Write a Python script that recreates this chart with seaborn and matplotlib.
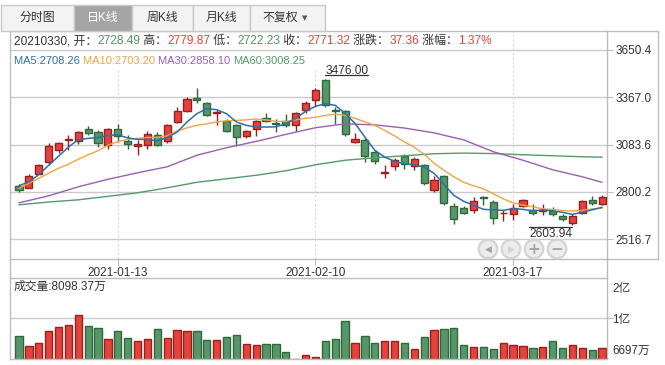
import matplotlib
matplotlib.use("Agg")
import matplotlib.pyplot as plt
import seaborn as sns
import numpy as np
import pandas as pd
from matplotlib.patches import Rectangle, Circle
from matplotlib.lines import Line2D

# ---------------- data ----------------
dates = ["2020-12-29", "2020-12-30", "2020-12-31", "2021-01-04", "2021-01-05", "2021-01-06",
         "2021-01-07", "2021-01-08", "2021-01-11", "2021-01-12", "2021-01-13", "2021-01-14",
         "2021-01-15", "2021-01-18", "2021-01-19", "2021-01-20", "2021-01-21", "2021-01-22",
         "2021-01-25", "2021-01-26", "2021-01-27", "2021-01-28", "2021-01-29", "2021-02-01",
         "2021-02-02", "2021-02-03", "2021-02-04", "2021-02-05", "2021-02-08", "2021-02-09",
         "2021-02-10", "2021-02-18", "2021-02-19", "2021-02-22", "2021-02-23", "2021-02-24",
         "2021-02-25", "2021-02-26", "2021-03-01", "2021-03-02", "2021-03-03", "2021-03-04",
         "2021-03-05", "2021-03-08", "2021-03-09", "2021-03-10", "2021-03-11", "2021-03-12",
         "2021-03-15", "2021-03-16", "2021-03-17", "2021-03-18", "2021-03-19", "2021-03-22",
         "2021-03-23", "2021-03-24", "2021-03-25", "2021-03-26", "2021-03-29", "2021-03-30"]

opens = [2838, 2826, 2910, 2982, 3054, 3114, 3108, 3180, 3159, 3084,
         3180, 3103, 3078, 3084, 3141, 3105, 3219, 3285, 3365, 3333,
         3273, 3223, 3204, 3138, 3180, 3245, 3215, 3225, 3204, 3293,
         3349, 3473, 3291, 3283, 3102, 3114, 3039, 2912, 2958, 3018,
         2958, 2964, 2810, 2894, 2718, 2706, 2690, 2770, 2738, 2672,
         2670, 2718, 2695, 2684, 2684, 2654, 2617, 2677, 2750, 2728.49]
closes = [2814, 2898, 2964, 3078, 3096, 3117, 3159, 3156, 3096, 3180,
          3134, 3090, 3087, 3147, 3081, 3204, 3283, 3359, 3353, 3263,
          3279, 3168, 3132, 3163, 3227, 3227, 3207, 3199, 3275, 3335,
          3411, 3323, 3287, 3145, 3115, 3014, 2984, 2918, 2994, 2970,
          3000, 2856, 2874, 2736, 2641, 2676, 2748, 2762, 2647, 2677,
          2706, 2750, 2677, 2695, 2670, 2641, 2656, 2748, 2734, 2771.32]
highs = [2846, 2910, 2970, 3096, 3102, 3139, 3165, 3193, 3169, 3182,
         3210, 3144, 3109, 3165, 3157, 3205, 3309, 3367, 3425, 3339,
         3289, 3237, 3210, 3171, 3233, 3273, 3240, 3265, 3279, 3343,
         3423, 3476.00, 3309, 3289, 3156, 3126, 3050, 2960, 3004, 3026,
         3010, 2970, 2898, 2900, 2734, 2718, 2770, 2774, 2754, 2694,
         2730, 2760, 2730, 2726, 2710, 2670, 2670, 2754, 2774, 2779.87]
lows = [2798, 2824, 2906, 2966, 3033, 3054, 3086, 3139, 3069, 3060,
        3099, 3060, 3024, 3060, 3075, 3096, 3215, 3279, 3333, 3253,
        3204, 3159, 3074, 3126, 3133, 3219, 3159, 3189, 3163, 3275,
        3315, 3309, 3205, 3133, 3092, 2980, 2970, 2886, 2934, 2940,
        2934, 2844, 2800, 2724, 2611, 2666, 2674, 2720, 2611, 2626,
        2635, 2710, 2662, 2665, 2656, 2624, 2603.94, 2670, 2724, 2722.23]
volumes_wan = [8851, 8224, 8412, 9184, 9416, 9541, 10169, 9479, 9353, 8663,
               9165, 8726, 8537, 8663, 9290, 8726, 9228, 9165, 9165, 8600,
               8600, 8789, 8914, 8349, 8287, 8349, 8349, 7866, 7426, 7678,
               7552, 8556, 8663, 9793, 8412, 8851, 8412, 8556, 8556, 8412,
               8036, 8789, 9228, 9290, 9353, 8287, 8161, 8161, 8036, 8412,
               8287, 8224, 8098, 8161, 8556, 8098, 8287, 8098, 7973, 8098.37]

ma5 = [2838, 2860, 2904, 2960, 3014, 3069, 3114, 3121, 3126, 3139,
       3142, 3124, 3115, 3115, 3106, 3126, 3159, 3219, 3269, 3299,
       3293, 3269, 3219, 3199, 3189, 3189, 3190, 3209, 3241, 3283,
       3313, 3329, 3319, 3271, 3211, 3129, 3050, 3009, 2984, 2969,
       2963, 2948, 2912, 2846, 2780, 2744, 2720, 2696, 2693, 2690,
       2700, 2696, 2687, 2693, 2687, 2678, 2666, 2678, 2693, 2708.26]
ma10 = [2822, 2852, 2882, 2912, 2942, 2966, 2996, 3023, 3047, 3080,
        3103, 3115, 3121, 3126, 3127, 3136, 3165, 3184, 3199, 3208,
        3220, 3226, 3229, 3232, 3237, 3232, 3223, 3223, 3232, 3241,
        3247, 3259, 3265, 3259, 3241, 3220, 3199, 3169, 3136, 3100,
        3068, 3026, 2972, 2930, 2891, 2858, 2837, 2819, 2789, 2759,
        2735, 2720, 2711, 2699, 2695, 2689, 2686, 2689, 2699, 2703.20]
ma_long_pos = [0, 3, 6, 9, 12, 15, 18, 21, 24, 27, 30, 33, 36, 39, 42, 45, 48, 51, 54, 57, 59]
ma30 = [2735, 2777, 2831, 2876, 2915, 2951, 3020, 3065, 3103, 3145, 3185,
        3208, 3202, 3183, 3154, 3112, 3041, 2990, 2933, 2891, 2858.10]
ma60 = [2723, 2740, 2753, 2774, 2795, 2825, 2858, 2879, 2900, 2927, 2963,
        2990, 3005, 3017, 3029, 3033, 3030, 3023, 3017, 3011, 3008.25]

date_ticks = ["2021-01-13", "2021-02-10", "2021-03-17"]
price_ticks = [3650.4, 3367.0, 3083.6, 2800.2, 2516.7]
tabs = ["分时图", "日K线", "周K线", "月K线", "不复权"]
selected_tab = "日K线"
vol_tick_labels = ["2亿", "1亿", "6697万"]
last_date_label = "20210330"
change_value = 37.36
change_pct = "1.37%"

# ---------------- style ----------------
sns.set_theme(style="white")
FAM = ["Liberation Sans", "Noto Sans CJK SC", "DejaVu Sans"]
plt.rcParams["font.family"] = FAM
plt.rcParams["axes.unicode_minus"] = False

W, H = 665, 365
fig = plt.figure(figsize=(W / 100, H / 100), dpi=100)
fig.patch.set_facecolor("white")


def fr(x0, y0, x1, y1):
    return [x0 / W, 1 - y1 / H, (x1 - x0) / W, (y1 - y0) / H]


def fline(x0, y0, x1, y1, color, lw=1.0):
    fig.add_artist(Line2D([x0 / W, x1 / W], [1 - y0 / H, 1 - y1 / H],
                          transform=fig.transFigure, color=color, lw=lw))


GRID = "#cacaca"
FRAME = "#bdbdbd"
TXT = "#333333"
UP_F, UP_E = "#e4433b", "#991e1e"
DN_F, DN_E = "#58966a", "#2c6a3c"
C_MA5, C_MA10, C_MA30, C_MA60 = "#2f6ea8", "#eea443", "#9a5fb4", "#549a6c"
T_RED, T_GREEN = "#e8403a", "#4b9664"

PL, PR, PT, PB = 10, 607, 31, 259
VT, VB = 278, 359.3
ax = fig.add_axes(fr(PL, PT, PR, PB))
axv = fig.add_axes(fr(PL, VT, PR, VB))

n = len(dates)
idx = np.arange(n)
o = np.array(opens, float)
c = np.array(closes, float)
hi = np.array(highs, float)
lo = np.array(lows, float)
up = c >= o

# ---------------- candles ----------------
fills = np.where(up, UP_F, DN_F)
edges = np.where(up, UP_E, DN_E)
ax.vlines(idx, lo, hi, colors=edges, lw=1.0, zorder=2)
ax.bar(idx, np.maximum(np.abs(c - o), 1.0), bottom=np.minimum(o, c), width=0.72,
       color=fills, edgecolor=edges, linewidth=1.0, zorder=3)

# ---------------- moving averages ----------------
sns.lineplot(x=ma_long_pos, y=ma60, ax=ax, color=C_MA60, lw=1.0, zorder=4, sort=False, estimator=None)
sns.lineplot(x=ma_long_pos, y=ma30, ax=ax, color=C_MA30, lw=1.0, zorder=4, sort=False, estimator=None)
sns.lineplot(x=idx, y=ma10, ax=ax, color=C_MA10, lw=1.0, zorder=5, sort=False, estimator=None)
sns.lineplot(x=idx, y=ma5, ax=ax, color=C_MA5, lw=1.1, zorder=6, sort=False, estimator=None)

ax.set_xlim(-0.91, n - 0.5)
ax.set_ylim(2398.6, 3764.2)
unit_px = (3764.2 - 2398.6) / (PB - PT)
ax.set_xlabel("")
ax.set_ylabel("")
ax.set_yticks(price_ticks)
ax.set_yticklabels([f"{v:.1f}" for v in price_ticks])
ax.yaxis.tick_right()
ax.tick_params(axis="y", direction="out", length=4, width=0.8, color=FRAME, pad=2,
               labelsize=8.5, labelcolor=TXT, left=False, right=True)
ax.yaxis.grid(True, color=GRID, lw=1.0)
ax.xaxis.grid(False)
ax.set_axisbelow(True)
tick_pos = [dates.index(d) for d in date_ticks]
ax.set_xticks(tick_pos)
ax.set_xticklabels(date_ticks)
ax.tick_params(axis="x", direction="out", length=4, width=0.8, color=FRAME, pad=1.5,
               labelsize=8.5, labelcolor=TXT, bottom=True)
for s in ax.spines.values():
    s.set_color(FRAME)
    s.set_linewidth(1.0)
for p in tick_pos:
    x_px = PL + (p + 0.91) * (PR - PL) / (n - 0.5 + 0.91)
    ymax = 0.835 if x_px < 330 else 1.0
    ax.axvline(p, ymin=0, ymax=ymax, color="#d6d6d6", lw=0.8, ls=(0, (2, 2)), zorder=1)

# high / low markers
hi_i = int(np.argmax(hi))
lo_i = int(np.argmin(lo))
y_ul = hi[hi_i] + 3.8 * unit_px
ax.plot([hi_i, hi_i + 4.3], [y_ul, y_ul], color=TXT, lw=0.9, zorder=7)
ax.text(hi_i + 0.02, y_ul + 1.2 * unit_px, f"{hi[hi_i]:.2f}", ha="left", va="baseline",
        fontsize=8.6, color=TXT, zorder=7)
y_ol = lo[lo_i] - 2.3 * unit_px
ax.plot([lo_i - 4.4, lo_i], [y_ol, y_ol], color=TXT, lw=0.9, zorder=7)
ax.text(lo_i, y_ol - 1.0 * unit_px, f"{lo[lo_i]:.2f}", ha="right", va="top",
        fontsize=8.6, color=TXT, zorder=7)

# ---------------- volume ----------------
vdf = pd.DataFrame({"pos": idx, "vol": volumes_wan, "dir": np.where(up, "up", "down")})
sns.barplot(data=vdf, x="pos", y="vol", hue="dir", palette={"up": UP_F, "down": DN_F},
            native_scale=True, dodge=False, width=0.74, errorbar=None, legend=False,
            saturation=1, linewidth=1.0, ax=axv)
up_rgb = matplotlib.colors.to_rgb(UP_F)
for patch in axv.patches:
    fc = patch.get_facecolor()[:3]
    patch.set_edgecolor(UP_E if np.allclose(fc, up_rgb, atol=0.02) else DN_E)
    patch.set_linewidth(1.0)
axv.set_xlim(-0.91, n - 0.5)
axv.set_ylim(7408, 12510)
axv.set_xlabel("")
axv.set_ylabel("")
axv.set_xticks([])
axv.set_yticks([10000])
axv.set_yticklabels([""])
axv.yaxis.tick_right()
axv.tick_params(axis="y", direction="out", length=4, width=0.8, color=FRAME, right=True, left=False)
axv.yaxis.grid(True, color=GRID, lw=1.0)
axv.set_axisbelow(True)
for s in axv.spines.values():
    s.set_color(FRAME)
    s.set_linewidth(1.0)

for lab, ypx in zip(vol_tick_labels, [289, 320, 351]):
    fig.text(612 / W, 1 - ypx / H, lab, fontsize=8.4, color=TXT, ha="left", va="center")
fig.text(14 / W, 1 - 287 / H, f"成交量:{volumes_wan[-1]:.2f}万", fontsize=8.5, color=TXT,
         ha="left", va="center")

# ---------------- frame extras ----------------
fline(PR, PT, 658, PT, FRAME)
fline(PR, PB, 658, PB, FRAME)
fline(658, PT, 658, PB, FRAME)
fline(PL, PB, PL, VT, FRAME)
fline(PR, PB, PR, VT, FRAME)

# ---------------- tabs ----------------
tab_edges = [0.5, 74, 132, 193, 250, 325]
for k, name in enumerate(tabs):
    x0, x1 = tab_edges[k], tab_edges[k + 1]
    sel = name == selected_tab
    fig.add_artist(Rectangle((x0 / W, 1 - 31 / H), (x1 - x0) / W, 26 / H, transform=fig.transFigure,
                             fc="#a4a4a4" if sel else "#f3f3f3", ec="#c9c9c9", lw=1.0))
    if k == len(tabs) - 1:
        fig.text(280 / W, 1 - 18 / H, name, fontsize=8.6, color=TXT, ha="center", va="center")
        fig.text(305 / W, 1 - 18.5 / H, "▼", fontsize=5, color="#555555", ha="center", va="center",
                 family="DejaVu Sans")
    else:
        fig.text((x0 + x1) / 2 / W, 1 - 18 / H, name, fontsize=8.6,
                 color="white" if sel else TXT, ha="center", va="center")

# ---------------- info rows ----------------
renderer = fig.canvas.get_renderer()


def seq_text(x, y, pieces, size):
    for s, col in pieces:
        t = fig.text(x / W, 1 - y / H, s, color=col, fontsize=size, ha="left", va="center")
        x += t.get_window_extent(renderer=renderer).width


def g_or_r(v, ref):
    return T_RED if v >= ref else T_GREEN


prev_close = closes[-1] - change_value
seq_text(14, 41, [
    (f"{last_date_label}, 开：", TXT), (f"{opens[-1]:.2f}", g_or_r(opens[-1], prev_close)),
    (" 高：", TXT), (f"{highs[-1]:.2f}", g_or_r(highs[-1], prev_close)),
    (" 低：", TXT), (f"{lows[-1]:.2f}", g_or_r(lows[-1], prev_close)),
    (" 收：", TXT), (f"{closes[-1]:.2f}", g_or_r(closes[-1], prev_close)),
    (" 涨跌：", TXT), (f"{change_value:.2f}", T_RED),
    (" 涨幅：", TXT), (change_pct, T_RED),
], 8.6)
seq_text(14, 60.5, [
    (f"MA5:{ma5[-1]:.2f} ", C_MA5), (f"MA10:{ma10[-1]:.2f} ", C_MA10),
    (f"MA30:{ma30[-1]:.2f} ", C_MA30), (f"MA60:{ma60[-1]:.2f}", C_MA60),
], 8.0)

# ---------------- navigation buttons ----------------
for xb, sym, col, fs in [(488, "◀", "#a3a3a3", 6.5), (511, "▶", "#d2d2d2", 6.5),
                         (534, "+", "#a3a3a3", 11), (557, "−", "#a3a3a3", 11)]:
    fig.add_artist(Circle((xb / 100, (H - 249) / 100), 9.3 / 100, transform=fig.dpi_scale_trans,
                          fc="#ececec", ec="#d3d3d3", lw=1.6, zorder=5))
    fig.text(xb / W, 1 - 249 / H, sym, fontsize=fs, color=col, ha="center", va="center",
             family="DejaVu Sans", fontweight="bold", zorder=6)

fig.savefig("out.png", dpi=100, facecolor="white")
